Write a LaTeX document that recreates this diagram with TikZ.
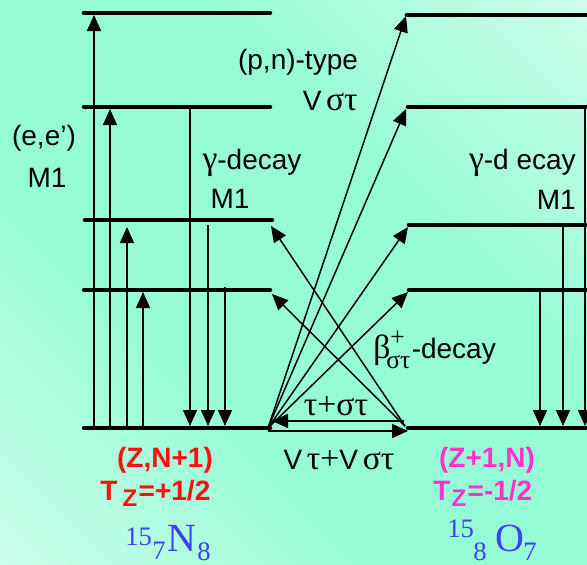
\documentclass[tikz,border=0pt]{standalone}
\usepackage{fontspec}
\setmainfont{Liberation Sans}
\newfontfamily\grk[Scale=1.2]{Liberation Serif}
\newfontfamily\tms{Liberation Serif}
\usetikzlibrary{arrows.meta}
\definecolor{bgdark}{RGB}{150,252,214}
\definecolor{bglite}{RGB}{236,255,247}
\definecolor{zred}{RGB}{255,16,16}
\definecolor{zpink}{RGB}{255,51,204}
\definecolor{zblue}{RGB}{64,64,245}
\pgfdeclarehorizontalshading{bgshade}{100bp}{color(0bp)=(bglite); color(12bp)=(bglite!70!bgdark); color(38bp)=(bgdark); color(62bp)=(bgdark); color(88bp)=(bglite!70!bgdark); color(100bp)=(bglite)}
\begin{document}
\begin{tikzpicture}[x=0.75pt,y=-0.75pt,
  lvl/.style={line width=3.4pt, line cap=round},
  arr/.style={line width=1.1pt, -{Triangle[length=12pt,width=10.5pt]}},
  lab/.style={font=\fontsize{21}{24}\selectfont, inner sep=0pt},
  redlab/.style={font=\bfseries\fontsize{21}{24}\selectfont, inner sep=0pt, text=zred},
  pinklab/.style={font=\bfseries\fontsize{21}{24}\selectfont, inner sep=0pt, text=zpink},
  isosmall/.style={font=\tms\fontsize{20}{20}\selectfont, inner sep=0pt, text=zblue, anchor=base west},
  isobig/.style={font=\tms\fontsize{30}{30}\selectfont, inner sep=0pt, text=zblue, anchor=base west}]
\shade[shading=bgshade, shading angle=45] (0,0) rectangle (587,565);
\useasboundingbox (0,0) rectangle (587,565);
% left levels
\coordinate (L0a) at (84,428); \coordinate (L0b) at (270,428);
\coordinate (L1a) at (84,290); \coordinate (L1b) at (270,290);
\coordinate (L2a) at (85,220); \coordinate (L2b) at (272,220);
\coordinate (L3a) at (84,107); \coordinate (L3b) at (270,107);
\coordinate (L4a) at (84,13);  \coordinate (L4b) at (270,13);
% right levels
\coordinate (R0a) at (408,428); \coordinate (R0b) at (587,428);
\coordinate (R1a) at (409,290); \coordinate (R1b) at (587,290);
\coordinate (R2a) at (409,225); \coordinate (R2b) at (587,225);
\coordinate (R3a) at (408,107); \coordinate (R3b) at (587,107);
\coordinate (R4a) at (407,15);  \coordinate (R4b) at (587,15);
\foreach \p in {L0,L1,L2,L3,L4,R0,R1,R2,R3,R4} \draw[lvl] (\p a) -- (\p b);
% (e,e') up arrows
\coordinate (u1s) at (94,428);  \coordinate (u1e) at (94,15);
\coordinate (u2s) at (110,428); \coordinate (u2e) at (110,109);
\coordinate (u3s) at (127,428); \coordinate (u3e) at (127,227);
\coordinate (u4s) at (143,428); \coordinate (u4e) at (143,292);
\foreach \i in {1,2,3,4} \draw[arr] (u\i s) -- (u\i e);
% left gamma decays
\coordinate (d1s) at (190,107); \coordinate (d1e) at (190,426);
\coordinate (d2s) at (208,225); \coordinate (d2e) at (208,426);
\coordinate (d3s) at (225,287); \coordinate (d3e) at (225,426);
% right gamma decays
\coordinate (d4s) at (540,290); \coordinate (d4e) at (540,426);
\coordinate (d5s) at (563,225); \coordinate (d5e) at (563,426);
\coordinate (d6s) at (585,107); \coordinate (d6e) at (585,426);
\foreach \i in {1,...,6} \draw[arr] (d\i s) -- (d\i e);
% (p,n) and beta arrows
\coordinate (P) at (268,428);
\coordinate (Q) at (405,426);
\coordinate (t1) at (406,16);
\coordinate (t2) at (406,109);
\coordinate (t3) at (408,227);
\coordinate (t4) at (408,292);
\foreach \i in {1,2,3,4} \draw[arr] (P) -- (t\i);
\coordinate (t5) at (271,226);
\coordinate (t6) at (272,294);
\draw[arr] (Q) -- (t5);
\draw[arr] (Q) -- (t6);
% horizontal arrows
\coordinate (h1s) at (404,421); \coordinate (h1e) at (272,421);
\coordinate (h2s) at (268,431); \coordinate (h2e) at (408,431);
\draw[arr] (h1s) -- (h1e);
\draw[arr] (h2s) -- (h2e);
% labels
\node[lab] (ee) at (44,138) {(e,e')};
\node[lab] (m1a) at (47,178) {M1};
\node[lab] (pn) at (298,62) {(p,n)-type};
\node[lab, anchor=east] (vst) at (358,101) {V\,{\grk στ}};
\node[lab] (gdl) at (252,163) {{\grk γ}-decay};
\node[lab] (m1b) at (230,199) {M1};
\node[lab, anchor=east] (gdr) at (576,163) {{\grk γ}-d ecay};
\node[lab, anchor=east] (m1c) at (576,200) {M1};
\node[lab, anchor=base west] (beta) at (373,358) {{\grk β}\makebox[0pt][l]{\raisebox{9.5pt}{\fontsize{16}{16}\selectfont\grk +}}\hspace{-3pt}\raisebox{-8pt}{\fontsize{16}{16}\selectfont\grk στ}\hspace{1pt}-decay};
\node[lab] (tst) at (336,406) {\grk τ+στ};
\node[lab] (vtv) at (339,460) {V\,{\grk τ+}V\,{\grk στ}};
% isospin labels
\node[redlab] (zn1) at (165,460) {(Z,N+1)};
\node[redlab, anchor=base west] (tz1) at (100,500) {T\hspace{4pt}\raisebox{-5pt}{\fontsize{18}{18}\selectfont Z}\hspace{1pt}=+1/2};
\node[pinklab] (zn2) at (487,460) {(Z+1,N)};
\node[pinklab, anchor=base west] (tz2) at (433,500) {T\hspace{1pt}\raisebox{-5pt}{\fontsize{18}{18}\selectfont Z}\hspace{1pt}=-1/2};
% nuclide symbols
\node[isosmall] (na) at (125,545) {15};
\node[isosmall] (nb) at (152,559) {7};
\node[isobig]   (nc) at (167,551) {N};
\node[isosmall] (nd) at (197,560) {8};
\node[isosmall] (oa) at (447,537) {15};
\node[isosmall] (ob) at (473,560) {8};
\node[isobig]   (oc) at (495,551) {O};
\node[isosmall] (od) at (523,560) {7};
\end{tikzpicture}
\end{document}
